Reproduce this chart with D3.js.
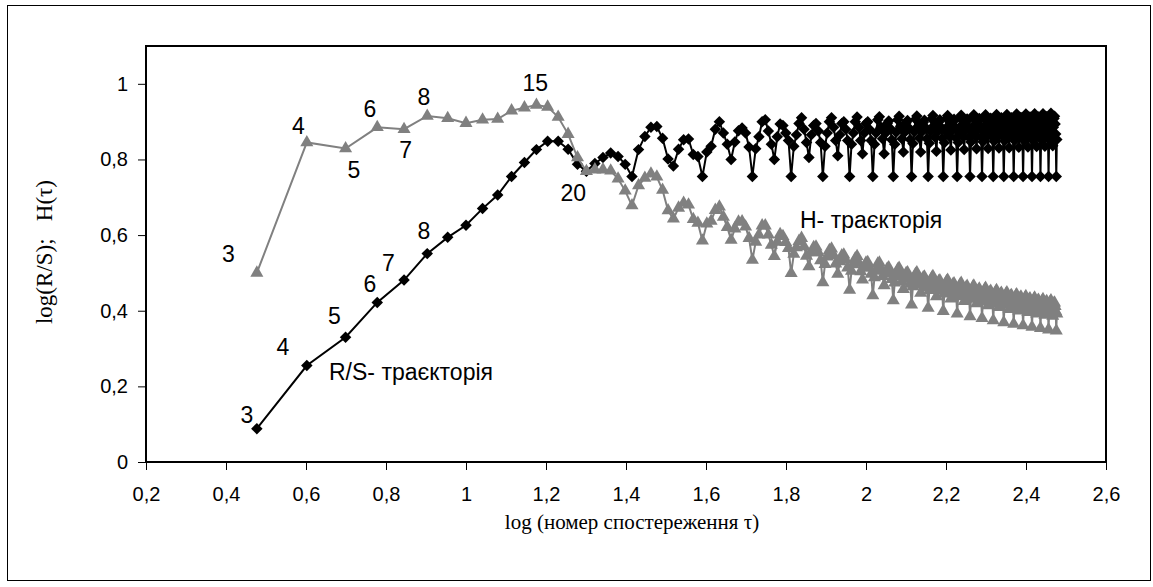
<!DOCTYPE html>
<html>
<head>
<meta charset="utf-8">
<script src="https://cdn.jsdelivr.net/npm/d3@7"></script>
<style>
  body { margin: 0; background: #fff; }
  svg { display: block; }
</style>
</head>
<body>
<svg id="chart"></svg>
<script>
// observation numbers 3..300, plotted on a log axis
var tau = d3.range(3, 301);

// log(R/S)
var rsValues = [
  0.088, 0.255, 0.33, 0.422, 0.481, 0.551, 0.594, 0.626, 0.67, 0.706,
  0.755, 0.792, 0.826, 0.848, 0.848, 0.827, 0.787, 0.769, 0.789, 0.805, 0.817, 0.808, 0.787,
  0.755, 0.826, 0.861, 0.885, 0.887, 0.856, 0.801, 0.783, 0.827, 0.852, 0.854, 0.813, 0.808,
  0.755, 0.82, 0.835, 0.88, 0.9, 0.87, 0.84, 0.8, 0.846, 0.876, 0.883, 0.87, 0.833,
  0.755, 0.828, 0.86, 0.9, 0.905, 0.875, 0.84, 0.8, 0.86, 0.894, 0.89, 0.87, 0.85,
  0.755, 0.835, 0.865, 0.895, 0.91, 0.88, 0.845, 0.805, 0.865, 0.89, 0.895, 0.875, 0.845,
  0.755, 0.835, 0.87, 0.9, 0.91, 0.885, 0.85, 0.81, 0.865, 0.895, 0.9, 0.88, 0.85,
  0.755, 0.84, 0.87, 0.9, 0.912, 0.885, 0.85, 0.815, 0.87, 0.895, 0.9, 0.88, 0.85,
  0.755, 0.84, 0.87, 0.905, 0.913, 0.885, 0.855, 0.815, 0.87, 0.895, 0.902, 0.882, 0.852,
  0.755, 0.84, 0.872, 0.905, 0.914, 0.888, 0.855, 0.82, 0.872, 0.897, 0.903, 0.883, 0.853,
  0.755, 0.842, 0.873, 0.906, 0.915, 0.888, 0.857, 0.82, 0.873, 0.898, 0.904, 0.884, 0.855,
  0.755, 0.843, 0.874, 0.907, 0.916, 0.89, 0.858, 0.822, 0.874, 0.899, 0.905, 0.885, 0.856,
  0.755, 0.844, 0.875, 0.908, 0.916, 0.89, 0.86, 0.825, 0.875, 0.9, 0.906, 0.886, 0.857,
  0.755, 0.845, 0.876, 0.909, 0.917, 0.892, 0.86, 0.826, 0.876, 0.9, 0.907, 0.887, 0.858,
  0.755, 0.846, 0.877, 0.91, 0.918, 0.892, 0.862, 0.828, 0.877, 0.901, 0.908, 0.888, 0.859,
  0.755, 0.847, 0.878, 0.91, 0.918, 0.893, 0.862, 0.829, 0.878, 0.902, 0.909, 0.889, 0.86,
  0.755, 0.848, 0.879, 0.911, 0.919, 0.894, 0.864, 0.83, 0.879, 0.903, 0.91, 0.89, 0.861,
  0.755, 0.849, 0.88, 0.912, 0.919, 0.894, 0.864, 0.831, 0.88, 0.904, 0.91, 0.89, 0.862,
  0.755, 0.85, 0.881, 0.912, 0.92, 0.895, 0.865, 0.832, 0.881, 0.905, 0.911, 0.891, 0.863,
  0.755, 0.85, 0.882, 0.913, 0.92, 0.896, 0.866, 0.833, 0.882, 0.906, 0.912, 0.892, 0.864,
  0.755, 0.851, 0.883, 0.914, 0.921, 0.896, 0.867, 0.834, 0.883, 0.906, 0.912, 0.892, 0.865,
  0.755, 0.852, 0.884, 0.914, 0.921, 0.897, 0.868, 0.835, 0.884, 0.907, 0.913, 0.893, 0.866,
  0.755, 0.853, 0.885, 0.915, 0.922, 0.898, 0.869, 0.836, 0.885, 0.908, 0.914, 0.894, 0.867,
  0.755, 0.853
];

// H(tau)
var hValues = [
  0.50, 0.845, 0.829, 0.885, 0.88, 0.915, 0.909, 0.896, 0.905, 0.907,
  0.929, 0.937, 0.944, 0.939, 0.912, 0.867, 0.805, 0.769, 0.773, 0.773, 0.770, 0.749, 0.717,
  0.678, 0.731, 0.751, 0.762, 0.754, 0.719, 0.665, 0.643, 0.672, 0.685, 0.680, 0.642, 0.632,
  0.585, 0.630, 0.637, 0.666, 0.675, 0.648, 0.621, 0.587, 0.617, 0.635, 0.636, 0.622, 0.592,
  0.534, 0.582, 0.601, 0.625, 0.625, 0.601, 0.574, 0.544, 0.582, 0.602, 0.597, 0.581, 0.565,
  0.499, 0.550, 0.567, 0.584, 0.592, 0.570, 0.545, 0.517, 0.554, 0.568, 0.569, 0.554, 0.533,
  0.475, 0.523, 0.543, 0.560, 0.564, 0.547, 0.524, 0.497, 0.530, 0.546, 0.548, 0.534, 0.514,
  0.455, 0.505, 0.522, 0.538, 0.544, 0.526, 0.504, 0.482, 0.513, 0.527, 0.528, 0.515, 0.497,
  0.440, 0.488, 0.505, 0.524, 0.527, 0.510, 0.491, 0.467, 0.498, 0.511, 0.514, 0.501, 0.483,
  0.427, 0.474, 0.491, 0.509, 0.513, 0.497, 0.478, 0.457, 0.486, 0.499, 0.501, 0.489, 0.471,
  0.416, 0.464, 0.480, 0.497, 0.501, 0.485, 0.468, 0.447, 0.475, 0.488, 0.490, 0.478, 0.462,
  0.407, 0.454, 0.470, 0.487, 0.491, 0.476, 0.458, 0.438, 0.465, 0.478, 0.480, 0.469, 0.453,
  0.399, 0.445, 0.461, 0.478, 0.481, 0.467, 0.451, 0.432, 0.457, 0.470, 0.472, 0.461, 0.445,
  0.392, 0.438, 0.453, 0.470, 0.473, 0.460, 0.443, 0.425, 0.450, 0.462, 0.465, 0.454, 0.439,
  0.385, 0.431, 0.447, 0.463, 0.466, 0.453, 0.437, 0.419, 0.443, 0.455, 0.458, 0.447, 0.432,
  0.380, 0.425, 0.440, 0.456, 0.460, 0.447, 0.431, 0.414, 0.438, 0.449, 0.452, 0.442, 0.427,
  0.374, 0.420, 0.435, 0.450, 0.454, 0.441, 0.426, 0.409, 0.432, 0.444, 0.447, 0.436, 0.422,
  0.369, 0.415, 0.430, 0.445, 0.448, 0.435, 0.420, 0.404, 0.427, 0.439, 0.441, 0.431, 0.417,
  0.365, 0.411, 0.425, 0.440, 0.443, 0.431, 0.416, 0.400, 0.423, 0.434, 0.437, 0.427, 0.413,
  0.361, 0.406, 0.421, 0.435, 0.438, 0.427, 0.412, 0.396, 0.419, 0.430, 0.432, 0.423, 0.409,
  0.357, 0.402, 0.417, 0.431, 0.434, 0.422, 0.408, 0.392, 0.415, 0.426, 0.428, 0.418, 0.405,
  0.354, 0.399, 0.413, 0.427, 0.430, 0.419, 0.405, 0.389, 0.412, 0.422, 0.425, 0.415, 0.402,
  0.350, 0.395, 0.410, 0.424, 0.427, 0.415, 0.401, 0.386, 0.408, 0.419, 0.421, 0.412, 0.399,
  0.347, 0.392
];

var xTicks = [0.2, 0.4, 0.6, 0.8, 1, 1.2, 1.4, 1.6, 1.8, 2, 2.2, 2.4, 2.6];
var yTicks = [0, 0.2, 0.4, 0.6, 0.8, 1];

// point labels (text, position in data units)
var pointLabels = [
  {t: "3", x: 0.406, y: 0.552}, {t: "4", x: 0.581, y: 0.888},
  {t: "5", x: 0.72, y: 0.774},  {t: "6", x: 0.76, y: 0.935},
  {t: "7", x: 0.849, y: 0.827}, {t: "8", x: 0.895, y: 0.966},
  {t: "15", x: 1.173, y: 1.003}, {t: "20", x: 1.268, y: 0.712},
  {t: "3", x: 0.452, y: 0.124}, {t: "4", x: 0.542, y: 0.305},
  {t: "5", x: 0.671, y: 0.386}, {t: "6", x: 0.76, y: 0.472},
  {t: "7", x: 0.806, y: 0.527}, {t: "8", x: 0.895, y: 0.612}
];
var seriesLabels = [
  {t: "R/S- траєкторія", x: 0.6575, y: 0.239},
  {t: "H- траєкторія", x: 1.835, y: 0.64}
];

var W = 1153, H = 587;
var svg = d3.select("#chart").attr("width", W).attr("height", H);

svg.append("rect")
  .attr("x", 7.5).attr("y", 5.5)
  .attr("width", 1143).attr("height", 575)
  .attr("fill", "#fff").attr("stroke", "#000").attr("stroke-width", 1);

var x = d3.scaleLinear().domain([0.2, 2.6]).range([146, 1106]);
var y = d3.scaleLinear().domain([0, 1.1]).range([462, 46]);

var fmt = function(d) { return String(+d.toFixed(1)).replace(".", ","); };
var sans = "Arial, 'Liberation Sans', sans-serif";
var serif = "'Times New Roman', 'Liberation Serif', serif";

// X axis
var gx = svg.append("g")
  .attr("transform", "translate(0,462)")
  .call(d3.axisBottom(x).tickValues(xTicks).tickSize(8).tickPadding(17).tickFormat(fmt));
gx.select(".domain").remove();
gx.selectAll("text").style("font-family", sans).style("font-size", "20px").attr("fill", "#000");

// Y axis
var gy = svg.append("g")
  .attr("transform", "translate(146,0)")
  .call(d3.axisLeft(y).tickValues(yTicks).tickSize(8).tickPadding(10).tickFormat(fmt));
gy.select(".domain").remove();
gy.selectAll("text").style("font-family", sans).style("font-size", "20px").attr("fill", "#000");

// plot box
svg.append("rect")
  .attr("x", 146).attr("y", 46)
  .attr("width", 960).attr("height", 416)
  .attr("fill", "none").attr("stroke", "#000").attr("stroke-width", 2);

var rsData = tau.map(function(n, i) { return {x: Math.log10(n), y: rsValues[i]}; });
var hData = tau.map(function(n, i) { return {x: Math.log10(n), y: hValues[i]}; });

var line = d3.line()
  .x(function(d) { return x(d.x); })
  .y(function(d) { return y(d.y); });

// R/S trajectory: black diamonds
svg.append("path").datum(rsData)
  .attr("d", line).attr("fill", "none")
  .attr("stroke", "#000").attr("stroke-width", 2);
svg.append("g").selectAll("path")
  .data(rsData)
  .join("path")
    .attr("d", d3.symbol().type(d3.symbolSquare).size(66))
    .attr("transform", function(d) { return "translate(" + x(d.x) + "," + y(d.y) + ")rotate(45)"; })
    .attr("fill", "#000");

// H trajectory: gray triangles
svg.append("path").datum(hData)
  .attr("d", line).attr("fill", "none")
  .attr("stroke", "#808080").attr("stroke-width", 2);
svg.append("g").selectAll("path")
  .data(hData)
  .join("path")
    .attr("d", d3.symbol().type(d3.symbolTriangle).size(74))
    .attr("transform", function(d) { return "translate(" + x(d.x) + "," + y(d.y) + ")"; })
    .attr("fill", "#808080");

// labels
svg.append("g").selectAll("text")
  .data(pointLabels)
  .join("text")
    .attr("x", function(d) { return x(d.x); })
    .attr("y", function(d) { return y(d.y); })
    .attr("dy", "0.36em")
    .attr("text-anchor", "middle")
    .style("font-family", sans).style("font-size", "23px")
    .text(function(d) { return d.t; });

svg.append("g").selectAll("text")
  .data(seriesLabels)
  .join("text")
    .attr("x", function(d) { return x(d.x); })
    .attr("y", function(d) { return y(d.y); })
    .attr("dy", "0.36em")
    .style("font-family", sans).style("font-size", "23px")
    .text(function(d) { return d.t; });

// axis titles
svg.append("text")
  .attr("x", 632).attr("y", 529)
  .attr("text-anchor", "middle")
  .style("font-family", serif).style("font-size", "21px")
  .text("log (номер спостереження τ)");

svg.append("text")
  .attr("transform", "translate(52,252)rotate(-90)")
  .attr("text-anchor", "middle")
  .style("font-family", serif).style("font-size", "23px")
  .style("white-space", "pre")
  .text("log(R/S);   H(τ)");
</script>
</body>
</html>
